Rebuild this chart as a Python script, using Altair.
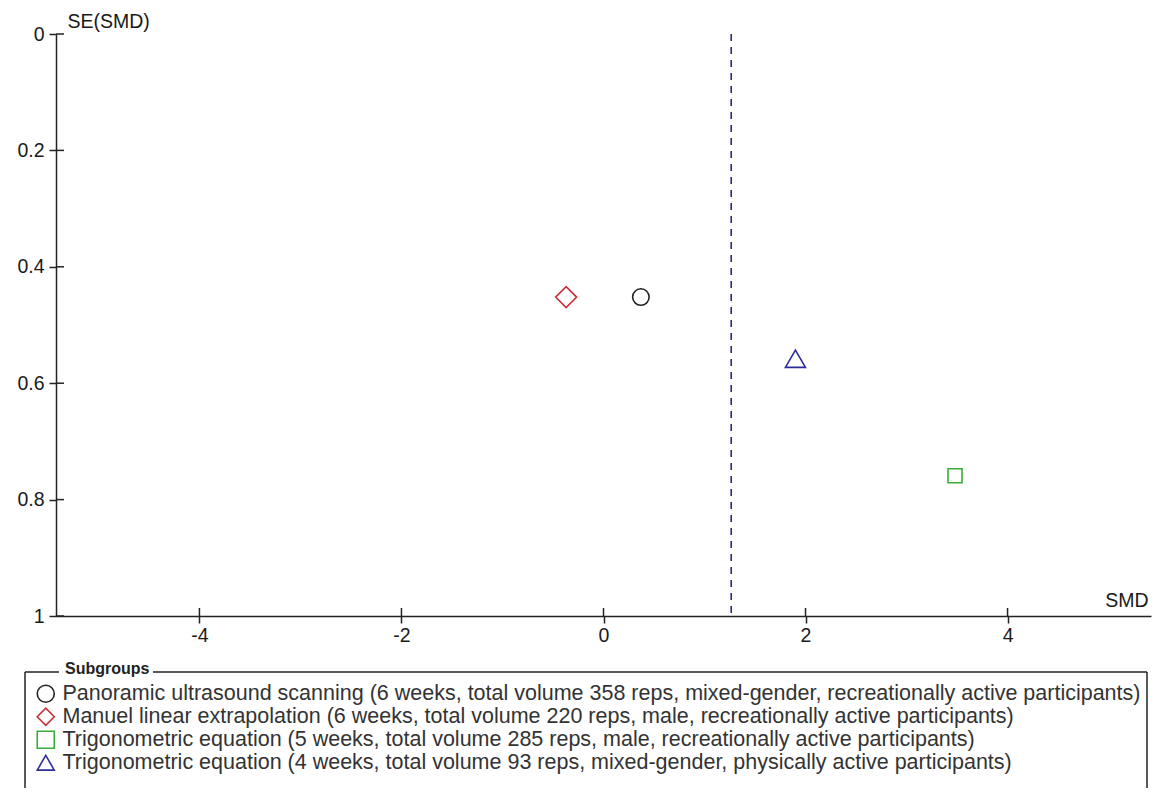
import altair as alt
import pandas as pd

# ---- data ----
groups = [
    "Panoramic ultrasound scanning (6 weeks, total volume 358 reps, mixed-gender, recreationally active participants)",
    "Manuel linear extrapolation (6 weeks, total volume 220 reps, male, recreationally active participants)",
    "Trigonometric equation (5 weeks, total volume 285 reps, male, recreationally active participants)",
    "Trigonometric equation (4 weeks, total volume 93 reps, mixed-gender, physically active participants)",
]
smd_values = [0.37, -0.37, 3.48, 1.90]
se_values = [0.452, 0.452, 0.759, 0.558]
pooled_smd = [1.264]
x_tick_values = [-4, -2, 0, 2, 4]
y_tick_values = [0, 0.2, 0.4, 0.6, 0.8, 1]

# ---- styles ----
shapes = ["circle", "diamond", "square", "triangle-up"]
colors = ["#222222", "#c9303b", "#3aac3a", "#2d2d9c"]
marker_sizes = [272, 441, 196, 400]
FONT = "Liberation Sans"
W, H = 1095, 582

df = pd.DataFrame({"smd": smd_values, "se": se_values, "group": groups})
df["msize"] = marker_sizes

x_scale = alt.Scale(domain=[-5.42, 5.42], nice=False, zero=False)
y_scale = alt.Scale(domain=[0, 1], reverse=True, nice=False, zero=False)

x_axis = alt.Axis(
    values=x_tick_values, grid=False, tickSize=7, labelPadding=3,
    labelExpr="replace(datum.label, '\u2212', '-')",
    labelFlush=False, labelOverlap=False,
    titleAngle=0, titleX=1092, titleY=-10, titleAlign="right",
    titleBaseline="alphabetic",
)
y_axis = alt.Axis(
    values=y_tick_values, grid=False, tickSize=7, labelPadding=5, format="~g",
    labelFlush=False, labelOverlap=False,
    titleAngle=0, titleX=11, titleY=-7, titleAlign="left",
    titleBaseline="alphabetic",
)

legend = alt.Legend(
    title=None, orient="none", legendX=-21, legendY=649, direction="vertical",
    labelFont=FONT, labelFontSize=21.5, labelColor="#333333", labelLimit=1300,
    symbolSize=290, symbolStrokeWidth=1.6, labelOffset=6, rowPadding=-1.4,
    padding=0,
)

points = alt.Chart(df).mark_point(filled=False, strokeWidth=1.6, opacity=1).encode(
    x=alt.X("smd:Q", scale=x_scale, axis=x_axis, title="SMD"),
    y=alt.Y("se:Q", scale=y_scale, axis=y_axis, title="SE(SMD)"),
    color=alt.Color("group:N", scale=alt.Scale(domain=groups, range=colors), legend=legend),
    shape=alt.Shape("group:N", scale=alt.Scale(domain=groups, range=shapes), legend=legend),
    size=alt.Size("msize:Q", scale=None, legend=None),
)

pooled_df = pd.DataFrame({"smd": pooled_smd, "se_top": [0], "se_bottom": [1]})
pooled_line = alt.Chart(pooled_df).mark_rule(
    color="#1c1c70", strokeWidth=1.5, strokeDash=[7, 6]
).encode(
    x=alt.X("smd:Q", scale=x_scale, axis=x_axis, title="SMD"),
    y=alt.Y("se_top:Q", scale=y_scale, axis=y_axis, title="SE(SMD)"),
    y2="se_bottom:Q",
)

# inward halves of the crossing ticks
xt_df = pd.DataFrame({"smd": x_tick_values})
x_inner = alt.Chart(xt_df).mark_rule(color="#222222", strokeWidth=1.5).encode(
    x=alt.X("smd:Q", scale=x_scale, axis=x_axis, title="SMD"),
    y=alt.value(H - 8), y2=alt.value(H),
)
yt_df = pd.DataFrame({"se": y_tick_values})
y_inner = alt.Chart(yt_df).mark_rule(color="#222222", strokeWidth=1.5).encode(
    y=alt.Y("se:Q", scale=y_scale, axis=y_axis, title="SE(SMD)"),
    x=alt.value(0), x2=alt.value(8),
)

# legend frame (fieldset style)
dummy = pd.DataFrame({"k": [0]})
box_top = 638
box_bottom = 756
left_x, right_x = -31, 1091
frame = []
for (x1, x2, y1, y2) in [
    (left_x, 3, box_top, box_top),
    (97, right_x, box_top, box_top),
    (left_x, left_x, box_top, box_bottom),
    (right_x, right_x, box_top, box_bottom),
]:
    frame.append(
        alt.Chart(dummy).mark_rule(color="#222222", strokeWidth=1.5).encode(
            x=alt.value(x1), x2=alt.value(x2), y=alt.value(y1), y2=alt.value(y2)
        )
    )

legend_title = alt.Chart(dummy).mark_text(
    align="left", baseline="alphabetic", font=FONT, fontSize=16,
    fontWeight="bold", color="#222222",
).encode(x=alt.value(9), y=alt.value(640), text=alt.value("Subgroups"))

chart = alt.layer(
    pooled_line, x_inner, y_inner, points, *frame, legend_title
).properties(
    width=W, height=H,
    autosize=alt.AutoSizeParams(type="none"),
    padding={"left": 48, "top": 26, "right": 2, "bottom": 172},
    background="white",
).configure_view(stroke=None).configure_axis(
    domainColor="#222222", domainWidth=1.5, tickColor="#222222", tickWidth=1.5,
    labelFont=FONT, labelFontSize=19.5, labelColor="#1a1a1a",
    titleFont=FONT, titleFontSize=19.5, titleFontWeight="normal", titleColor="#1a1a1a",
)

chart.save("out.html", embed_options={"renderer": "svg", "actions": False})
